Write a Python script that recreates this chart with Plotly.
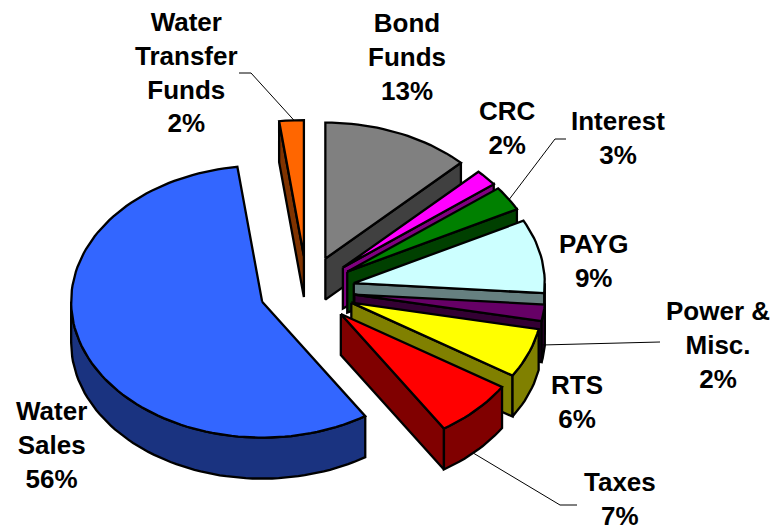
import math
import plotly.graph_objects as go

# Revenue sources, clockwise from twelve o'clock
sources = ["Bond<br>Funds", "CRC", "Interest", "PAYG", "Power &<br>Misc.", "RTS", "Taxes", "Water<br>Sales", "Water<br>Transfer<br>Funds"]
shares = [13, 2, 3, 9, 2, 6, 7, 56, 2]
top_colors = ["#808080", "#FF00FF", "#008000", "#CCFFFF", "#660066", "#FFFF00", "#FF0000", "#3366FF", "#FF6600"]
side_colors = ["#404040", "#800080", "#004000", "#668080", "#330033", "#808000", "#800000", "#1A3380", "#803300"]

# Label centres in page pixels
label_x = [407, 507, 618, 593, 718, 577, 620, 51, 186]
label_y = [57, 128, 138, 261, 345, 402, 499, 445, 72]

# Projection of the tilted, exploded disc
CX, CY = 307, 290
RX, RY = 191, 136
DEPTH = 41
EXPLODE = 0.25
FONT_SIZE = 26


def foreshorten(deg):
    # The tilted view squeezes angles slightly towards the front of the disc
    return deg - 4 * math.sin(math.radians(deg / 2))


def unit(deg):
    t = math.radians(deg)
    return RX * math.sin(t), -RY * math.cos(t)


def arc(apex, start, end, drop=0):
    n = max(2, int(abs(end - start) / 2) + 1)
    pts = []
    for i in range(n + 1):
        d = start + (end - start) * i / n
        ux, uy = unit(d)
        pts.append((apex[0] + ux, apex[1] + uy + drop))
    return pts


def polygon(fig, pts, color):
    xs = [p[0] for p in pts] + [pts[0][0]]
    ys = [p[1] for p in pts] + [pts[0][1]]
    fig.add_trace(go.Scatter(x=xs, y=ys, mode="lines", fill="toself", fillcolor=color,
                             line=dict(color="black", width=2.3), hoverinfo="skip", showlegend=False))


def radial_face(fig, apex, deg, color):
    ux, uy = unit(deg)
    polygon(fig, [apex, (apex[0] + ux, apex[1] + uy), (apex[0] + ux, apex[1] + uy + DEPTH),
                  (apex[0], apex[1] + DEPTH)], color)


fig = go.Figure()

total = sum(shares)
edges = [0.0]
for s in shares:
    edges.append(edges[-1] + 360 * s / total)

slices = []
for i, s in enumerate(shares):
    a0, a1 = foreshorten(edges[i]), foreshorten(edges[i + 1])
    mx, my = unit((a0 + a1) / 2)
    apex = (CX + EXPLODE * mx, CY + EXPLODE * my)
    slices.append((a0, a1, apex))

# Paint from the back of the disc to the front
paint_order = [8, 0, 1, 2, 3, 4, 5, 6, 7]
for i in paint_order:
    a0, a1, apex = slices[i]
    if math.sin(math.radians(a0)) < 0:
        radial_face(fig, apex, a0, side_colors[i])
    if math.sin(math.radians(a1)) > 0:
        radial_face(fig, apex, a1, side_colors[i])
    r0, r1 = max(a0, 90), min(a1, 270)
    if r1 > r0:
        polygon(fig, arc(apex, r0, r1) + arc(apex, r1, r0, DEPTH), side_colors[i])
    polygon(fig, [apex] + arc(apex, a0, a1), top_colors[i])


def rim(i, frac, drop=0):
    a0, a1, apex = slices[i]
    ux, uy = unit(a0 + (a1 - a0) * frac)
    return apex[0] + ux, apex[1] + uy + drop


# Leader lines: rim of the slice, then elbow points towards the label
leaders = [
    (rim(8, 0.6), [(251, 73), (239, 73)]),
    (rim(2, 0.55), [(555, 139), (566, 139)]),
    (rim(4, 0.75, 28), [(660, 342)]),
    (rim(6, 0.55, DEPTH), [(560, 505), (577, 505)]),
]
for start, rest in leaders:
    pts = [start] + rest
    fig.add_trace(go.Scatter(x=[p[0] for p in pts], y=[p[1] for p in pts], mode="lines",
                             line=dict(color="black", width=1), hoverinfo="skip", showlegend=False))

for name, share, x, y in zip(sources, shares, label_x, label_y):
    fig.add_annotation(x=x, y=y, text=f"<b>{name}<br>{share}%</b>", showarrow=False,
                       xanchor="center", yanchor="middle", align="center",
                       font=dict(family="Liberation Sans", size=FONT_SIZE, color="black"))

fig.update_xaxes(range=[0, 774], visible=False)
fig.update_yaxes(range=[531, 0], visible=False)
fig.update_layout(width=774, height=531, margin=dict(l=0, r=0, t=0, b=0),
                  paper_bgcolor="white", plot_bgcolor="white", showlegend=False)

fig.write_html("out.html", config={"displayModeBar": False})
